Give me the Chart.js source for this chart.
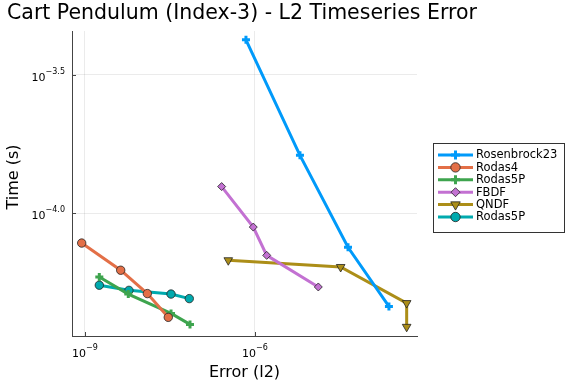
<!DOCTYPE html>
<html>
<head>
<meta charset="utf-8">
<script src="https://cdn.jsdelivr.net/npm/chart.js@4/dist/chart.umd.min.js"></script>
<style>
  html, body { margin: 0; padding: 0; background: #fff; }
  #wrap { width: 576px; height: 384px; }
</style>
</head>
<body>
<div id="wrap"><canvas id="cv" width="576" height="384"></canvas></div>
<script>
/* Cart Pendulum work-precision plot */
var labels = ['Rosenbrock23', 'Rodas4', 'Rodas5P', 'FBDF', 'QNDF', 'Rodas5P'];

var errRosenbrock23  = [6.93e-7, 6.22e-6, 4.38e-5, 2.31e-4];
var timeRosenbrock23 = [4.23e-4, 1.62e-4, 7.55e-5, 4.62e-5];

var errRodas4  = [8.75e-10, 4.27e-9, 1.26e-8, 2.95e-8];
var timeRodas4 = [7.82e-5, 6.24e-5, 5.14e-5, 4.22e-5];

var errRodas5P  = [1.79e-9, 5.81e-9, 3.30e-8, 7.13e-8];
var timeRodas5P = [5.90e-5, 5.12e-5, 4.36e-5, 3.98e-5];

var errFBDF  = [2.58e-7, 9.33e-7, 1.61e-6, 1.31e-5];
var timeFBDF = [1.25e-4, 8.93e-5, 7.06e-5, 5.43e-5];

var errQNDF  = [3.38e-7, 3.25e-5, 4.75e-4, 4.75e-4];
var timeQNDF = [6.78e-5, 6.41e-5, 4.75e-5, 3.90e-5];

var errRodas5P2  = [1.79e-9, 5.97e-9, 3.30e-8, 6.93e-8];
var timeRodas5P2 = [5.51e-5, 5.28e-5, 5.12e-5, 4.93e-5];

var xTicks = [-9, -6];      // exponents of 10
var yTicks = [-4.0, -3.5];
var xTickText = ['\u22129', '\u22126'];
var yTickText = ['\u22124.0', '\u22123.5'];

var FONT = '"DejaVu Sans", sans-serif';

function pts(xs, ys) {
    var out = [];
    for (var i = 0; i < xs.length; i++) out.push({x: xs[i], y: ys[i]});
    return out;
}

function series(label, xs, ys, color, style, radius, rot) {
    var isCross = style === 'cross';
    return {
        label: label,
        data: pts(xs, ys),
        borderColor: color,
        borderWidth: 3,
        pointStyle: style,
        pointRadius: radius,
        pointRotation: rot || 0,
        pointBackgroundColor: color,
        pointBorderColor: isCross ? color : '#222',
        pointBorderWidth: isCross ? 3 : 0.8,
        pointHoverRadius: radius,
        tension: 0,
        fill: false
    };
}

var datasets = [
    series(labels[0], errRosenbrock23, timeRosenbrock23, '#009afa', 'cross', 4),
    series(labels[1], errRodas4, timeRodas4, '#e36f47', 'circle', 4.2),
    series(labels[2], errRodas5P, timeRodas5P, '#3ea44e', 'cross', 4),
    series(labels[3], errFBDF, timeFBDF, '#c371d2', 'rectRot', 4),
    series(labels[4], errQNDF, timeQNDF, '#ac8e18', 'triangle', 5, 180),
    series(labels[5], errRodas5P2, timeRodas5P2, '#00aaae', 'circle', 4.2)
];

/* tick values, labels with superscripts, inward tick marks, titles, legend */
var decor = {
    id: 'decor',
    afterDraw: function(chart) {
        var ctx = chart.ctx, a = chart.chartArea;
        var xs = chart.scales.x, ys = chart.scales.y;
        ctx.save();
        ctx.strokeStyle = '#444';
        ctx.lineWidth = 1;
        xTicks.forEach(function(e) {
            var px = Math.round(xs.getPixelForValue(Math.pow(10, e))) + 0.5;
            ctx.beginPath(); ctx.moveTo(px, a.bottom); ctx.lineTo(px, a.bottom - 4); ctx.stroke();
        });
        yTicks.forEach(function(e) {
            var py = Math.round(ys.getPixelForValue(Math.pow(10, e))) + 0.5;
            ctx.beginPath(); ctx.moveTo(a.left, py); ctx.lineTo(a.left + 4, py); ctx.stroke();
        });

        ctx.fillStyle = '#000';
        ctx.textBaseline = 'alphabetic';
        // x tick labels
        xTicks.forEach(function(e, i) {
            var px = xs.getPixelForValue(Math.pow(10, e));
            ctx.font = '11px ' + FONT;
            var w1 = ctx.measureText('10').width;
            ctx.font = '8px ' + FONT;
            var w2 = ctx.measureText(xTickText[i]).width;
            var x0 = px - (w1 + w2) / 2;
            ctx.font = '11px ' + FONT;
            ctx.textAlign = 'left';
            ctx.fillText('10', x0, a.bottom + 21);
            ctx.font = '8px ' + FONT;
            ctx.fillText(xTickText[i], x0 + w1, a.bottom + 14);
        });
        // y tick labels
        yTicks.forEach(function(e, i) {
            var py = ys.getPixelForValue(Math.pow(10, e));
            ctx.font = '8px ' + FONT;
            var w2 = ctx.measureText(yTickText[i]).width;
            var xr = a.left - 7;
            ctx.textAlign = 'right';
            ctx.fillText(yTickText[i], xr, py - 1);
            ctx.font = '11px ' + FONT;
            ctx.fillText('10', xr - w2, py + 6);
        });

        // title + axis titles
        ctx.textAlign = 'left';
        ctx.font = '20.5px ' + FONT;
        ctx.fillText('Cart Pendulum (Index-3) - L2 Timeseries Error', 7, 18.5);
        ctx.textAlign = 'center';
        ctx.font = '16px ' + FONT;
        ctx.fillText('Error (l2)', (a.left + a.right) / 2, 376.5);
        ctx.save();
        ctx.translate(18, 177);
        ctx.rotate(-Math.PI / 2);
        ctx.fillText('Time (s)', 0, 0);
        ctx.restore();

        // legend
        var bx = 433.5, by = 143.5, bw = 131, bh = 89;
        ctx.fillStyle = '#fff';
        ctx.fillRect(bx, by, bw, bh);
        ctx.strokeStyle = '#333';
        ctx.lineWidth = 1;
        ctx.strokeRect(bx, by, bw, bh);
        chart.data.datasets.forEach(function(ds, i) {
            var ry = 155 + i * 12.4;
            ctx.strokeStyle = ds.borderColor;
            ctx.lineWidth = 3;
            ctx.beginPath(); ctx.moveTo(438, ry); ctx.lineTo(473, ry); ctx.stroke();
            ctx.fillStyle = ds.pointBackgroundColor;
            ctx.strokeStyle = ds.pointBorderColor;
            ctx.lineWidth = ds.pointBorderWidth;
            Chart.helpers.drawPoint(ctx, {
                pointStyle: ds.pointStyle,
                radius: ds.pointRadius + 0.5,
                rotation: ds.pointRotation,
                borderWidth: ds.pointBorderWidth
            }, 455.5, ry);
            ctx.fillStyle = '#000';
            ctx.textAlign = 'left';
            ctx.textBaseline = 'middle';
            ctx.font = '11.5px ' + FONT;
            ctx.fillText(ds.label, 476, ry + 0.5);
        });
        ctx.restore();
    }
};

function logTicks(list) {
    return function(scale) {
        scale.ticks = list.map(function(e) { return {value: Math.pow(10, e)}; });
    };
}

new Chart(document.getElementById('cv'), {
    type: 'line',
    data: {datasets: datasets},
    options: {
        responsive: false,
        animation: false,
        devicePixelRatio: 1,
        layout: {padding: {left: 72, right: 159, top: 31, bottom: 48}},
        plugins: {legend: {display: false}, title: {display: false}, tooltip: {enabled: false}},
        scales: {
            x: {
                type: 'logarithmic',
                min: Math.pow(10, -9.229),
                max: Math.pow(10, -3.141),
                afterBuildTicks: logTicks(xTicks),
                ticks: {display: false},
                grid: {color: 'rgba(0,0,0,0.08)', drawTicks: false},
                border: {color: '#444', width: 1}
            },
            y: {
                type: 'logarithmic',
                min: Math.pow(10, -4.442),
                max: Math.pow(10, -3.342),
                afterBuildTicks: logTicks(yTicks),
                ticks: {display: false},
                grid: {color: 'rgba(0,0,0,0.08)', drawTicks: false},
                border: {color: '#444', width: 1}
            }
        }
    },
    plugins: [decor]
});
</script>
</body>
</html>
